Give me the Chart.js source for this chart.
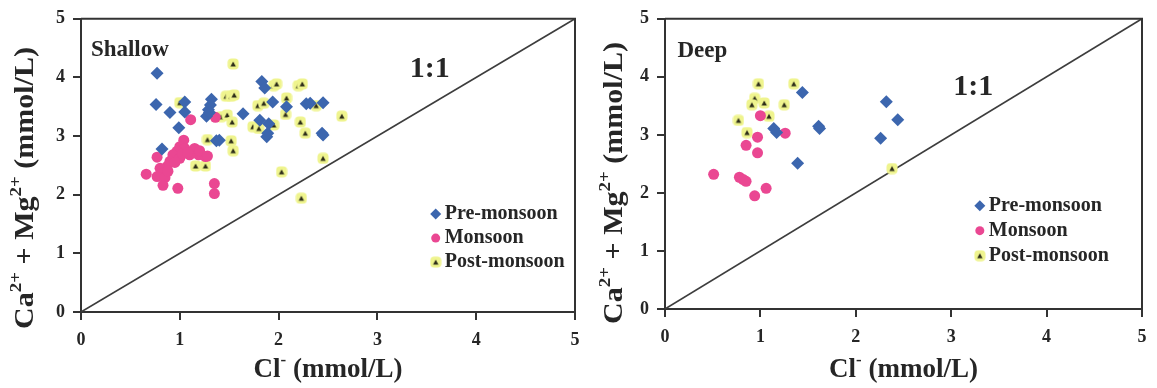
<!DOCTYPE html>
<html>
<head>
<meta charset="utf-8">
<script src="https://cdn.jsdelivr.net/npm/chart.js@4.4.0/dist/chart.umd.min.js"></script>
<style>
  body { margin: 0; background: #fff; }
  .panel { position: absolute; top: 0; height: 388px; }
</style>
</head>
<body>
<div class="panel" style="left:0;width:600px"><canvas id="shallow"></canvas></div>
<div class="panel" style="left:578px;width:579px"><canvas id="deep"></canvas></div>
<script>
const seasons = ["Pre-monsoon", "Monsoon", "Post-monsoon"];
const axisTicks = [0, 1, 2, 3, 4, 5];
const oneToOne = [[0, 0], [5, 5]];

// [Cl-, Ca2+ + Mg2+] in mmol/L
const shallowPre = [
  [0.77, 4.07], [0.76, 3.54], [0.90, 3.40], [1.05, 3.41], [1.05, 3.58],
  [0.99, 3.14], [0.82, 2.78], [1.32, 3.63], [1.31, 3.53], [1.29, 3.45],
  [1.27, 3.34], [1.30, 3.40], [1.40, 2.93], [1.37, 2.92], [1.64, 3.38],
  [1.83, 3.93], [1.86, 3.82], [1.81, 3.27], [1.90, 3.21], [1.88, 2.99],
  [1.89, 3.05], [1.94, 3.58], [2.08, 3.50], [2.28, 3.55], [2.32, 3.56],
  [2.45, 3.57], [2.44, 3.05], [2.45, 3.02]
];
const shallowMon = [
  [1.11, 3.28], [1.36, 3.32], [1.04, 2.93], [1.00, 2.82], [1.05, 2.79],
  [0.97, 2.74], [0.93, 2.68], [1.15, 2.79], [1.19, 2.68], [1.10, 2.68],
  [1.26, 2.65], [0.77, 2.64], [0.90, 2.57], [0.87, 2.48], [0.80, 2.45],
  [0.83, 2.37], [0.66, 2.35], [0.77, 2.31], [0.85, 2.29], [0.83, 2.16],
  [0.98, 2.11], [1.35, 2.19], [1.35, 2.02], [1.00, 2.62], [1.03, 2.70],
  [0.95, 2.55], [1.08, 2.72], [1.20, 2.75], [1.28, 2.66], [0.88, 2.40]
];
const shallowPost = [
  [1.00, 3.57], [1.54, 4.23], [1.47, 3.68], [1.52, 3.68], [1.55, 3.70],
  [1.42, 3.33], [1.48, 3.36], [1.53, 3.24], [1.28, 2.94], [1.52, 2.92],
  [1.54, 2.75], [1.16, 2.49], [1.26, 2.49], [1.79, 3.52], [1.85, 3.56],
  [1.74, 3.16], [1.80, 3.13], [1.95, 3.86], [1.98, 3.89], [2.20, 3.86],
  [2.24, 3.89], [2.08, 3.65], [2.07, 3.37], [2.22, 3.24], [2.38, 3.52],
  [2.64, 3.34], [1.95, 3.19], [2.27, 3.05], [2.03, 2.39], [2.45, 2.62],
  [2.23, 1.94]
];

const deepPre = [
  [1.44, 3.73], [2.32, 3.57], [2.44, 3.26], [1.14, 3.11], [1.17, 3.04],
  [1.61, 3.15], [1.62, 3.11], [2.26, 2.94], [1.39, 2.51]
];
const deepMon = [
  [1.00, 3.33], [1.26, 3.03], [0.97, 2.96], [0.85, 2.82], [0.97, 2.69],
  [0.51, 2.32], [0.78, 2.27], [0.82, 2.23], [0.85, 2.20], [1.06, 2.08],
  [0.94, 1.95]
];
const deepPost = [
  [0.98, 3.88], [1.35, 3.88], [0.94, 3.63], [0.91, 3.52], [1.04, 3.55],
  [1.25, 3.52], [1.09, 3.32], [0.77, 3.25], [0.86, 3.04], [2.38, 2.42]
];

const FONT = "'Liberation Serif', 'Times New Roman', serif";
const INK = "#262626";

// post-monsoon marker: pale yellow blob with a small dark triangle
function triangleMarker() {
  const c = document.createElement("canvas");
  c.width = 12; c.height = 12;
  const g = c.getContext("2d");
  g.fillStyle = "#eff48e";
  g.beginPath();
  g.roundRect(0.5, 0.5, 11, 11, 4);
  g.fill();
  g.fillStyle = "#2c2c18";
  g.beginPath();
  g.moveTo(6, 3.4); g.lineTo(8.7, 8.4); g.lineTo(3.3, 8.4);
  g.closePath();
  g.fill();
  return c;
}
const postStyle = triangleMarker();

const toPts = arr => arr.map(p => ({ x: p[0], y: p[1] }));

// text with superscript runs, centred on (x, y)
function richText(ctx, parts, x, y, size) {
  const supSize = Math.round(size * 0.62);
  let w = 0;
  parts.forEach(p => {
    ctx.font = `bold ${p.sup ? supSize : size}px ${FONT}`;
    p.w = ctx.measureText(p.t).width;
    w += p.w;
  });
  let cx = x - w / 2;
  parts.forEach(p => {
    ctx.font = `bold ${p.sup ? supSize : size}px ${FONT}`;
    ctx.fillText(p.t, cx, p.sup ? y - size * 0.36 : y);
    cx += p.w;
  });
}

const decor = {
  id: "decor",
  afterDraw(chart, args, o) {
    const { ctx, chartArea: a, scales } = chart;
    const sx = scales.x, sy = scales.y;
    ctx.save();
    // frame top and right
    ctx.strokeStyle = "#333";
    ctx.lineWidth = 2;
    ctx.beginPath();
    ctx.moveTo(a.left, a.top); ctx.lineTo(a.right, a.top); ctx.lineTo(a.right, a.bottom);
    ctx.stroke();

    ctx.fillStyle = INK;
    ctx.textBaseline = "middle";
    ctx.textAlign = "left";
    ctx.font = `bold 23px ${FONT}`;
    ctx.fillText(o.name, sx.getPixelForValue(o.nameAt[0]), sy.getPixelForValue(o.nameAt[1]));
    ctx.textAlign = "center";
    ctx.font = `bold 30px ${FONT}`;
    ctx.fillText("1:1", sx.getPixelForValue(o.ratioAt[0]), sy.getPixelForValue(o.ratioAt[1]));

    // legend
    const lx = sx.getPixelForValue(o.legendAt[0]);
    const ly = sy.getPixelForValue(o.legendAt[1]);
    seasons.forEach((name, i) => {
      const ds = chart.data.datasets[i];
      const y = ly + i * o.legendGap;
      ctx.fillStyle = ds.backgroundColor;
      Chart.helpers.drawPoint(ctx, { pointStyle: ds.pointStyle, radius: ds.pointRadius - 1, borderWidth: 0, rotation: 0 }, lx, y);
      ctx.fillStyle = INK;
      ctx.textAlign = "left";
      ctx.font = `bold 20px ${FONT}`;
      ctx.fillText(name, lx + 9, y);
    });

    // axis titles
    ctx.textAlign = "left";
    ctx.textBaseline = "middle";
    richText(ctx, [{ t: "Cl" }, { t: "-", sup: true }, { t: " (mmol/L)" }], (a.left + a.right) / 2, 370, 27);
    ctx.translate(o.yTitleX, o.yTitleY);
    ctx.rotate(-Math.PI / 2);
    ctx.scale(1, 0.88);
    richText(ctx, [{ t: "Ca" }, { t: "2+", sup: true }, { t: " + Mg" }, { t: "2+", sup: true }, { t: " (mmol/L)" }], 0, 0, 30);
    ctx.restore();
  }
};

function makeChart(id, pre, mon, post, o) {
  return new Chart(document.getElementById(id), {
    type: "scatter",
    data: {
      datasets: [
        { label: seasons[0], data: toPts(pre), pointStyle: "rectRot", pointRadius: 6.5, backgroundColor: "#3c66ae", borderWidth: 0, order: 1 },
        { label: seasons[1], data: toPts(mon), pointStyle: "circle", pointRadius: 5.5, backgroundColor: "#ea4792", borderWidth: 0, order: 1 },
        { label: seasons[2], data: toPts(post), pointStyle: postStyle, pointRadius: 6, backgroundColor: "#eff48e", borderWidth: 0, order: 1 },
        { label: "1:1", data: toPts(oneToOne), showLine: true, borderColor: "#3d3d3d", borderWidth: 1.6, pointRadius: 0, order: 5 }
      ]
    },
    options: {
      responsive: true,
      maintainAspectRatio: false,
      animation: false,
      layout: { padding: { top: o.top, right: o.right, left: 0, bottom: 0 } },
      plugins: { legend: { display: false }, tooltip: { enabled: false }, decor: o },
      scales: {
        x: {
          min: 0, max: 5,
          afterBuildTicks: s => { s.ticks = axisTicks.map(v => ({ value: v })); },
          afterFit: s => { s.height = o.xHeight; },
          ticks: { color: INK, padding: 10, font: { family: FONT, size: 18, weight: "bold" } },
          grid: { drawOnChartArea: false, drawTicks: true, tickLength: 8, color: "#333", lineWidth: 2 },
          border: { display: true, color: "#333", width: 2 }
        },
        y: {
          min: 0, max: 5,
          afterBuildTicks: s => { s.ticks = axisTicks.map(v => ({ value: v })); },
          afterFit: s => { s.width = o.yWidth; },
          ticks: { color: INK, padding: 8, font: { family: FONT, size: 18, weight: "bold" } },
          grid: { drawOnChartArea: false, drawTicks: true, tickLength: 8, color: "#333", lineWidth: 2 },
          border: { display: true, color: "#333", width: 2 }
        }
      }
    },
    plugins: [decor]
  });
}

makeChart("shallow", shallowPre, shallowMon, shallowPost, {
  top: 16, right: 25, xHeight: 76, yWidth: 81, yTitleX: 26, yTitleY: 188,
  name: "Shallow", nameAt: [0.1, 4.46], ratioAt: [3.53, 4.14],
  legendAt: [3.59, 1.67], legendGap: 24
});
makeChart("deep", deepPre, deepMon, deepPost, {
  top: 12, right: 15, xHeight: 79, yWidth: 87, yTitleX: 37, yTitleY: 183,
  name: "Deep", nameAt: [0.13, 4.44], ratioAt: [3.23, 3.82],
  legendAt: [3.3, 1.78], legendGap: 25
});
</script>
</body>
</html>
